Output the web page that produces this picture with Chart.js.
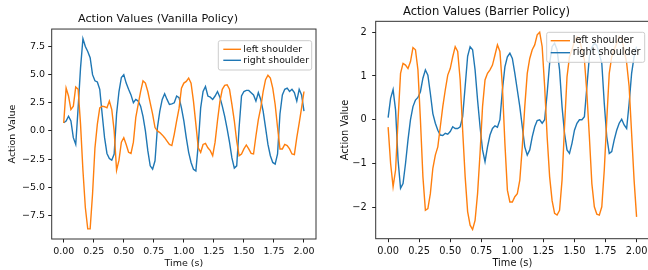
<!DOCTYPE html>
<html>
<head>
<meta charset="utf-8">
<script src="https://cdn.jsdelivr.net/npm/chart.js@4/dist/chart.umd.min.js"></script>
<style>
  html, body { margin: 0; padding: 0; background: #fff; }
  body { width: 648px; height: 270px; overflow: hidden; position: relative; }
  .box { position: absolute; top: 0; height: 270px; }
  #leftBox { left: 0; width: 324px; }
  #rightBox { left: 324px; width: 340px; }
</style>
</head>
<body>
<div class="box" id="leftBox"><canvas id="vanillaChart" width="324" height="270"></canvas></div>
<div class="box" id="rightBox"><canvas id="barrierChart" width="340" height="270"></canvas></div>
<script>
// sample times (s), every 0.02 s
const time = [0.00, 0.02, 0.04, 0.06, 0.08, 0.10, 0.12, 0.14, 0.16, 0.18,
  0.20, 0.22, 0.24, 0.26, 0.28, 0.30, 0.32, 0.34, 0.36, 0.38,
  0.40, 0.42, 0.44, 0.46, 0.48, 0.50, 0.52, 0.54, 0.56, 0.58,
  0.60, 0.62, 0.64, 0.66, 0.68, 0.70, 0.72, 0.74, 0.76, 0.78,
  0.80, 0.82, 0.84, 0.86, 0.88, 0.90, 0.92, 0.94, 0.96, 0.98,
  1.00, 1.02, 1.04, 1.06, 1.08, 1.10, 1.12, 1.14, 1.16, 1.18,
  1.20, 1.22, 1.24, 1.26, 1.28, 1.30, 1.32, 1.34, 1.36, 1.38,
  1.40, 1.42, 1.44, 1.46, 1.48, 1.50, 1.52, 1.54, 1.56, 1.58,
  1.60, 1.62, 1.64, 1.66, 1.68, 1.70, 1.72, 1.74, 1.76, 1.78,
  1.80, 1.82, 1.84, 1.86, 1.88, 1.90, 1.92, 1.94, 1.96, 1.98, 2.00];

// Vanilla policy
const vanillaLeft = [0.7, 3.8, 3.1, 1.9, 2.2, 3.9, 3.7, 0.6, -3.5, -6.8,
  -8.7, -8.7, -5.6, -1.5, 0.6, 2.05, 2.2, 2.15, 2.05, 2.65,
  1.9, 0.0, -3.5, -2.6, -1.0, -0.6, -1.2, -1.9, -2.0, -1.0,
  1.2, 2.35, 3.5, 4.45, 4.25, 3.5, 2.5, 1.5, 0.3, 0.0,
  -0.15, -0.35, -0.6, -0.9, -1.2, -1.3, -0.3, 0.9, 2.0, 3.8,
  4.25, 4.4, 4.7, 4.25, 2.65, 0.6, -1.5, -1.9, -1.2, -1.1,
  -1.5, -1.75, -2.2, -1.0, 0.9, 2.6, 3.7, 4.05, 4.1, 3.7,
  2.35, 0.9, -0.9, -2.2, -2.05, -1.6, -1.25, -1.6, -2.0, -2.05,
  -0.45, 1.0, 2.05, 3.5, 4.55, 4.95, 4.7, 3.8, 2.35, 0.3,
  -1.6, -1.6, -1.2, -1.3, -1.6, -2.05, -2.1, -0.6, 0.7, 2.05, 3.5];
const vanillaRight = [0.73, 0.88, 1.3, 0.88, -0.6, -1.2, 2.05, 5.6, 8.2, 7.5,
  7.05, 6.5, 5.0, 4.45, 4.35, 3.7, 1.5, -0.6, -2.0, -2.45,
  -2.6, -2.05, 1.5, 3.5, 4.75, 5.0, 4.25, 3.7, 3.2, 2.5,
  2.8, 2.65, 2.2, 1.3, 0.0, -1.75, -3.1, -3.4, -2.65, 0.3,
  1.75, 2.8, 3.3, 2.8, 2.35, 2.4, 2.5, 3.1, 2.95, 2.05,
  0.9, -0.6, -1.9, -2.8, -3.4, -3.55, -1.2, 2.05, 3.5, 3.95,
  3.1, 3.0, 2.8, 3.1, 3.5, 3.0, 2.2, 1.3, 0.2, -1.0,
  -2.4, -3.3, -3.1, 0.3, 3.1, 3.5, 3.6, 3.6, 3.4, 3.2,
  2.65, 3.4, 2.8, 1.75, 0.3, -1.2, -2.2, -2.8, -2.95, -2.05,
  1.5, 3.2, 3.7, 3.8, 3.5, 3.7, 3.4, 2.65, 3.7, 3.2, 1.75];

// Barrier policy
const barrierLeft = [-0.17, -1.0, -1.53, -1.15, 0.0, 1.06, 1.29, 1.25, 1.17, 1.33,
  1.65, 1.6, 1.14, 0.0, -1.3, -2.07, -2.03, -1.69, -1.11, -0.81,
  -0.62, -0.16, 0.3, 0.68, 1.02, 1.17, 1.44, 1.67, 1.56, 0.91,
  -0.24, -1.3, -2.1, -2.41, -2.51, -2.3, -1.69, -0.77, 0.3, 0.91,
  1.06, 1.14, 1.25, 1.48, 1.71, 1.56, 0.76, -0.54, -1.61, -1.88,
  -1.88, -1.76, -1.69, -1.38, -0.62, 0.3, 1.06, 1.4, 1.6, 1.71,
  1.94, 2.0, 1.67, 0.76, -0.39, -1.3, -1.85, -2.14, -2.18, -2.07,
  -1.38, -0.16, 0.98, 1.44, 1.6, 1.8, 1.9, 1.85, 1.6, 1.37,
  0.6, -0.39, -1.46, -1.99, -2.16, -2.18, -1.99, -1.15, 0.0, 1.06,
  1.44, 1.6, 1.75, 1.9, 1.85, 1.6, 1.3, 0.76, -0.31, -1.38, -2.22];
const barrierRight = [0.05, 0.49, 0.69, 0.22, -0.92, -1.57, -1.46, -1.0, -0.46, 0.0,
  0.3, 0.45, 0.51, 0.64, 0.95, 1.14, 1.02, 0.6, 0.14, -0.08,
  -0.24, -0.35, -0.36, -0.31, -0.33, -0.27, -0.16, -0.2, -0.2, -0.16,
  0.07, 0.76, 1.45, 1.67, 1.6, 1.14, 0.45, -0.16, -0.69, -0.96,
  -0.62, -0.35, -0.2, -0.14, -0.17, 0.0, 0.68, 1.21, 1.44, 1.52,
  1.4, 1.06, 0.68, 0.3, -0.16, -0.62, -0.81, -0.69, -0.39, -0.16,
  -0.02, 0.0, -0.08, 0.0, 0.6, 1.29, 1.67, 1.75, 1.6, 1.14,
  0.3, -0.31, -0.69, -0.77, -0.54, -0.24, -0.08, 0.0, 0.0, 0.07,
  0.76, 1.44, 1.65, 1.75, 1.7, 1.5, 1.29, 0.37, -0.39, -0.77,
  -0.73, -0.46, -0.24, -0.08, 0.01, -0.12, -0.2, 0.37, 1.06, 1.44, 1.67];

const xTicks = [0, 0.25, 0.5, 0.75, 1.0, 1.25, 1.5, 1.75, 2.0];
const vanillaYTicks = [-7.5, -5.0, -2.5, 0.0, 2.5, 5.0, 7.5];
const barrierYTicks = [-2, -1, 0, 1, 2];
const seriesNames = ['left shoulder', 'right shoulder'];

const ORANGE = '#ff7f0e';
const BLUE = '#1f77b4';
const FONT = "'DejaVu Sans', sans-serif";

Chart.defaults.font.family = FONT;
Chart.defaults.color = '#111';

function minus(s) { return s.replace('-', '\u2212'); }

// spines + matplotlib style legend box
const frameLegend = {
    id: 'frameLegend',
    afterDatasetsDraw(chart, args, o) {
        const ctx = chart.ctx;
        const a = chart.chartArea;
        ctx.save();
        ctx.strokeStyle = '#333';
        ctx.lineWidth = 1;
        ctx.strokeRect(a.left, a.top, a.right - a.left, a.bottom - a.top);

        ctx.fillStyle = 'rgba(255,255,255,0.8)';
        ctx.strokeStyle = '#cccccc';
        ctx.beginPath();
        if (ctx.roundRect) ctx.roundRect(o.x, o.y, o.w, o.h, 2);
        else ctx.rect(o.x, o.y, o.w, o.h);
        ctx.fill();
        ctx.stroke();

        ctx.font = o.size + 'px ' + FONT;
        ctx.textBaseline = 'middle';
        ctx.textAlign = 'left';
        chart.data.datasets.forEach(function(ds, i) {
            const y = o.y + o.first + i * o.gap;
            ctx.strokeStyle = ds.borderColor;
            ctx.lineWidth = 1.4;
            ctx.beginPath();
            ctx.moveTo(o.x + o.line0, y);
            ctx.lineTo(o.x + o.line1, y);
            ctx.stroke();
            ctx.fillStyle = '#111';
            ctx.fillText(ds.label, o.x + o.text, y);
        });
        ctx.restore();
    }
};

function makeChart(id, cfg) {
    const ctx = document.getElementById(id).getContext('2d');
    return new Chart(ctx, {
        type: 'line',
        data: {
            labels: time,
            datasets: [
                { label: seriesNames[0], data: cfg.left, borderColor: ORANGE, borderWidth: 1.4, pointRadius: 0, tension: 0 },
                { label: seriesNames[1], data: cfg.right, borderColor: BLUE, borderWidth: 1.4, pointRadius: 0, tension: 0 }
            ]
        },
        options: {
            responsive: false,
            animation: false,
            events: [],
            layout: { padding: { left: 0, top: 0, right: cfg.padRight, bottom: 0 } },
            plugins: {
                legend: { display: false },
                tooltip: { enabled: false },
                title: {
                    display: true,
                    text: cfg.title,
                    color: '#111',
                    font: { size: cfg.titleSize, weight: 'normal' },
                    padding: { top: cfg.titleTop, bottom: cfg.titleBottom }
                },
                frameLegend: cfg.legend
            },
            scales: {
                x: {
                    type: 'linear',
                    min: -0.1,
                    max: 2.1,
                    afterBuildTicks: function(s) { s.ticks = xTicks.map(function(v) { return { value: v }; }); },
                    afterFit: function(s) { s.height = cfg.xHeight; },
                    grid: { drawOnChartArea: false, drawTicks: true, tickLength: 3.5, color: '#222' },
                    border: { display: false },
                    ticks: {
                        padding: 3,
                        maxRotation: 0,
                        font: { size: cfg.tickSize },
                        callback: function(v) { return v.toFixed(2); }
                    },
                    title: { display: true, text: 'Time (s)', font: { size: cfg.tickSize }, padding: { top: 0, bottom: cfg.xTitleBottom } }
                },
                y: {
                    min: cfg.yMin,
                    max: cfg.yMax,
                    afterBuildTicks: function(s) { s.ticks = cfg.yTicks.map(function(v) { return { value: v }; }); },
                    afterFit: function(s) { s.width = cfg.yWidth; },
                    grid: { drawOnChartArea: false, drawTicks: true, tickLength: 3.5, color: '#222' },
                    border: { display: false },
                    ticks: {
                        padding: cfg.yTickPad,
                        font: { size: cfg.tickSize },
                        callback: function(v) { return minus(v.toFixed(cfg.yDigits)); }
                    },
                    title: { display: true, text: 'Action Value', font: { size: cfg.tickSize }, padding: { top: cfg.yTitleTop, bottom: 0 } }
                }
            }
        },
        plugins: [frameLegend]
    });
}

makeChart('vanillaChart', {
    left: vanillaLeft,
    right: vanillaRight,
    title: 'Action Values (Vanilla Policy)',
    titleSize: 11.2, titleTop: 12.3, titleBottom: 3.3,
    tickSize: 9.5,
    padRight: 8,
    xHeight: 31, xTitleBottom: 0.3,
    yWidth: 51.7, yTickPad: 3.2, yTitleTop: 7,
    yMin: -9.6, yMax: 9.05, yTicks: vanillaYTicks, yDigits: 1,
    legend: { x: 218.3, y: 40.7, w: 93.4, h: 29.3, first: 8.6, gap: 11, line0: 5, line1: 22.7, text: 25, size: 9.4 }
});

makeChart('barrierChart', {
    left: barrierLeft,
    right: barrierRight,
    title: 'Action Values (Barrier Policy)',
    titleSize: 11.6, titleTop: 5.0, titleBottom: 2.4,
    tickSize: 9.8,
    padRight: 15,
    xHeight: 31.3, xTitleBottom: 0.3,
    yWidth: 51.7, yTickPad: 5.5, yTitleTop: 15.8,
    yMin: -2.72, yMax: 2.25, yTicks: barrierYTicks, yDigits: 0,
    legend: { x: 222.7, y: 32.3, w: 98, h: 30, first: 8.4, gap: 12, line0: 4, line1: 23.3, text: 26, size: 9.7 }
});
</script>
</body>
</html>
